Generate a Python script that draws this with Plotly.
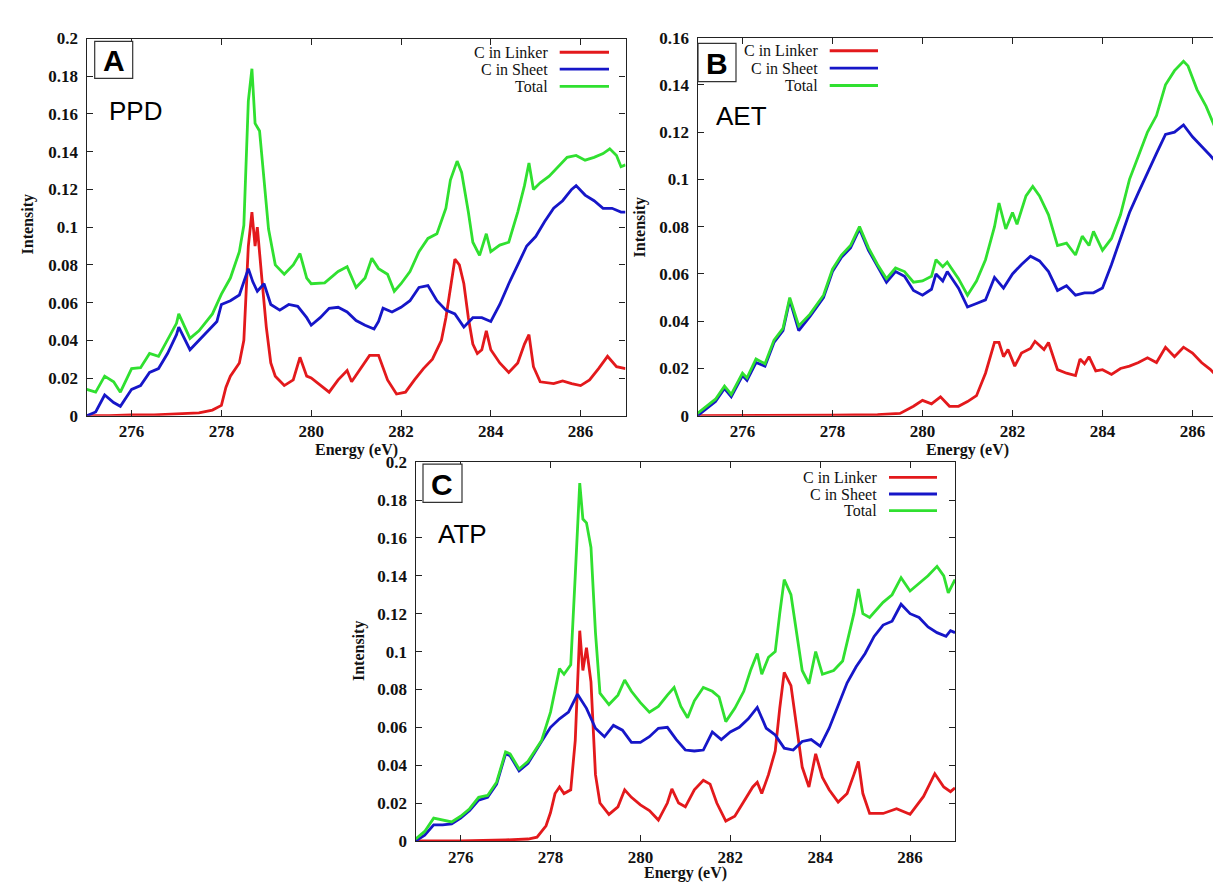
import plotly.graph_objects as go

# ---------------- data ----------------
energy_ticks = [276, 278, 280, 282, 284, 286]
y_ticks_02 = [0, 0.02, 0.04, 0.06, 0.08, 0.1, 0.12, 0.14, 0.16, 0.18, 0.2]
y_labels_02 = ["0", "0.02", "0.04", "0.06", "0.08", "0.1", "0.12", "0.14", "0.16", "0.18", "0.2"]
y_ticks_016 = [0, 0.02, 0.04, 0.06, 0.08, 0.1, 0.12, 0.14, 0.16]
y_labels_016 = ["0", "0.02", "0.04", "0.06", "0.08", "0.1", "0.12", "0.14", "0.16"]
series_names = ["C in Linker", "C in Sheet", "Total"]
panel_letters = ["A", "B", "C"]
panel_names = ["PPD", "AET", "ATP"]

# Panel A: PPD
ppd_linker_x = [275.0, 275.5, 276.0, 276.5, 277.0, 277.5, 277.8, 278.0, 278.1, 278.2, 278.4, 278.5, 278.6, 278.68, 278.75,
                278.8, 278.9, 279.0, 279.1, 279.2, 279.4, 279.6, 279.75, 279.9, 280.0, 280.2, 280.4, 280.6, 280.8,
                280.9, 281.1, 281.3, 281.5, 281.7, 281.9, 282.1, 282.3, 282.5, 282.7, 282.9, 283.0, 283.1, 283.2,
                283.3, 283.4, 283.5, 283.6, 283.7, 283.8, 283.9, 284.0, 284.2, 284.4, 284.6, 284.75, 284.85, 284.95,
                285.1, 285.4, 285.6, 285.8, 286.0, 286.2, 286.4, 286.6, 286.8, 287.0]
ppd_linker_y = [0.0, 0.0, 0.0005, 0.0005, 0.001, 0.0015, 0.003, 0.0055, 0.015, 0.021, 0.028, 0.04, 0.09, 0.108, 0.09,
                0.1, 0.073, 0.047, 0.028, 0.021, 0.016, 0.019, 0.031, 0.021, 0.02, 0.016, 0.0125, 0.019, 0.024,
                0.018, 0.025, 0.032, 0.032, 0.019, 0.0115, 0.0125, 0.019, 0.025, 0.03, 0.04, 0.052, 0.068, 0.083,
                0.08, 0.07, 0.052, 0.038, 0.033, 0.035, 0.045, 0.035, 0.028, 0.023, 0.028, 0.038, 0.043, 0.026,
                0.018, 0.017, 0.0185, 0.017, 0.016, 0.019, 0.025, 0.0315, 0.026, 0.025]

ppd_sheet_x = [275.0, 275.2, 275.4, 275.6, 275.75, 276.0, 276.2, 276.4, 276.6, 276.8, 277.0, 277.05, 277.3, 277.5,
               277.7, 277.9, 278.0, 278.2, 278.4, 278.6, 278.7, 278.8, 278.95, 279.1, 279.3, 279.5, 279.7, 279.9,
               280.0, 280.2, 280.4, 280.6, 280.8, 281.0, 281.2, 281.4, 281.5, 281.6, 281.8, 282.0, 282.2, 282.4,
               282.6, 282.8, 283.0, 283.2, 283.4, 283.6, 283.8, 284.0, 284.2, 284.4, 284.6, 284.8, 285.0, 285.2,
               285.4, 285.6, 285.8, 285.9, 286.1, 286.3, 286.5, 286.7, 286.9, 287.0]
ppd_sheet_y = [0.0, 0.002, 0.011, 0.007, 0.005, 0.014, 0.016, 0.023, 0.025, 0.033, 0.043, 0.047, 0.035, 0.04,
               0.045, 0.05, 0.059, 0.061, 0.064, 0.078, 0.071, 0.066, 0.07, 0.059, 0.056, 0.059, 0.058, 0.052,
               0.048, 0.052, 0.057, 0.0575, 0.055, 0.0505, 0.048, 0.046, 0.05, 0.057, 0.055, 0.0575, 0.061, 0.068,
               0.069, 0.061, 0.056, 0.054, 0.047, 0.052, 0.052, 0.05, 0.059, 0.07, 0.08, 0.09, 0.095, 0.103,
               0.11, 0.114, 0.12, 0.122, 0.117, 0.114, 0.11, 0.11, 0.108, 0.108]

ppd_total_x = [275.0, 275.2, 275.4, 275.6, 275.75, 276.0, 276.2, 276.4, 276.6, 276.8, 277.0, 277.05, 277.3, 277.5,
               277.8, 278.0, 278.2, 278.4, 278.5, 278.6, 278.68, 278.75, 278.85, 278.95, 279.05, 279.2, 279.4,
               279.6, 279.75, 279.9, 280.0, 280.3, 280.6, 280.8, 281.0, 281.2, 281.35, 281.5, 281.7, 281.85, 282.0,
               282.2, 282.4, 282.6, 282.8, 283.0, 283.1, 283.25, 283.35, 283.5, 283.6, 283.75, 283.9, 284.0, 284.2,
               284.4, 284.6, 284.75, 284.85, 284.95, 285.1, 285.3, 285.5, 285.7, 285.9, 286.1, 286.3, 286.5,
               286.65, 286.8, 286.9, 287.0]
ppd_total_y = [0.014, 0.0125, 0.021, 0.018, 0.0125, 0.025, 0.0255, 0.033, 0.0315, 0.04, 0.049, 0.054, 0.041, 0.045,
               0.054, 0.0645, 0.073, 0.087, 0.101, 0.167, 0.184, 0.155, 0.151, 0.125, 0.099, 0.08, 0.075,
               0.08, 0.086, 0.073, 0.07, 0.0705, 0.0765, 0.079, 0.068, 0.073, 0.0835, 0.078, 0.075, 0.066, 0.07,
               0.0765, 0.087, 0.094, 0.0965, 0.11, 0.125, 0.135, 0.129, 0.108, 0.092, 0.085, 0.0965, 0.087, 0.0905,
               0.092, 0.108, 0.122, 0.134, 0.12, 0.1235, 0.127, 0.132, 0.137, 0.138, 0.1355, 0.137, 0.139,
               0.1415, 0.138, 0.132, 0.133]

# Panel B: AET
aet_linker_x = [275.0, 276.0, 277.0, 278.0, 279.0, 279.5, 279.8, 280.0, 280.2, 280.4, 280.6, 280.8, 281.0, 281.2,
                281.4, 281.6, 281.7, 281.8, 281.9, 282.05, 282.2, 282.4, 282.5, 282.7, 282.8, 283.0, 283.2, 283.4,
                283.5, 283.6, 283.7, 283.85, 284.0, 284.2, 284.4, 284.6, 284.8, 285.0, 285.2, 285.4, 285.6, 285.8,
                286.0, 286.2, 286.4, 286.6, 286.8, 287.0]
aet_linker_y = [0.0, 0.0, 0.0, 0.0002, 0.0005, 0.001, 0.004, 0.0065, 0.005, 0.008, 0.004, 0.004, 0.006, 0.0085,
                0.018, 0.031, 0.031, 0.025, 0.028, 0.021, 0.0265, 0.0285, 0.0315, 0.028, 0.031, 0.0195, 0.018, 0.017,
                0.024, 0.022, 0.025, 0.019, 0.0195, 0.0175, 0.02, 0.021, 0.0225, 0.0245, 0.0225, 0.029, 0.025, 0.029,
                0.0265, 0.0225, 0.0195, 0.0155, 0.0115, 0.009]

aet_sheet_x = [275.0, 275.2, 275.4, 275.6, 275.75, 276.0, 276.1, 276.3, 276.5, 276.7, 276.9, 277.05, 277.15, 277.25,
               277.5, 277.8, 278.0, 278.2, 278.4, 278.6, 278.8, 279.0, 279.2, 279.4, 279.6, 279.8, 280.0, 280.2,
               280.3, 280.45, 280.55, 280.8, 281.0, 281.2, 281.4, 281.6, 281.8, 282.0, 282.2, 282.4, 282.6, 282.8,
               283.0, 283.2, 283.4, 283.6, 283.8, 284.0, 284.2, 284.4, 284.6, 284.8, 285.0, 285.2, 285.4, 285.6,
               285.8, 286.0, 286.2, 286.4, 286.6, 286.8, 287.0]
aet_sheet_y = [0.0, 0.003, 0.006, 0.0115, 0.008, 0.017, 0.015, 0.0225, 0.021, 0.031, 0.036, 0.049, 0.042, 0.036,
               0.042, 0.05, 0.061, 0.067, 0.071, 0.079, 0.07, 0.063, 0.0565, 0.061, 0.059, 0.053, 0.051, 0.0535,
               0.06, 0.057, 0.061, 0.054, 0.046, 0.0475, 0.049, 0.0585, 0.054, 0.06, 0.064, 0.0675, 0.0655, 0.061,
               0.053, 0.055, 0.051, 0.052, 0.052, 0.054, 0.064, 0.075, 0.086, 0.0945, 0.103, 0.111, 0.119, 0.12,
               0.123, 0.118, 0.114, 0.11, 0.1055, 0.104, 0.104]

aet_total_x = [275.0, 275.2, 275.4, 275.6, 275.75, 276.0, 276.1, 276.3, 276.5, 276.7, 276.9, 277.05, 277.15, 277.25,
               277.5, 277.8, 278.0, 278.2, 278.4, 278.6, 278.8, 279.0, 279.2, 279.4, 279.6, 279.8, 280.0, 280.2,
               280.3, 280.45, 280.55, 280.8, 281.0, 281.2, 281.4, 281.6, 281.7, 281.85, 282.0, 282.1, 282.3, 282.45,
               282.6, 282.8, 283.0, 283.2, 283.4, 283.55, 283.7, 283.8, 284.0, 284.2, 284.4, 284.6, 284.8, 285.0,
               285.2, 285.4, 285.6, 285.8, 285.9, 286.1, 286.3, 286.5, 286.7, 286.9, 287.0]
aet_total_y = [0.001, 0.004, 0.007, 0.0125, 0.009, 0.018, 0.016, 0.024, 0.022, 0.032, 0.037, 0.05, 0.044, 0.038,
               0.043, 0.051, 0.062, 0.068, 0.072, 0.08, 0.071, 0.064, 0.058, 0.0625, 0.061, 0.0565, 0.057, 0.059,
               0.066, 0.063, 0.065, 0.058, 0.051, 0.057, 0.066, 0.08, 0.09, 0.079, 0.086, 0.081, 0.093, 0.097,
               0.093, 0.085, 0.072, 0.073, 0.068, 0.076, 0.072, 0.078, 0.07, 0.075, 0.085, 0.1, 0.11, 0.12,
               0.127, 0.14, 0.146, 0.15, 0.148, 0.138, 0.131, 0.122, 0.116, 0.117, 0.112]

# Panel C: ATP
atp_linker_x = [275.0, 276.0, 277.0, 277.5, 277.7, 277.9, 278.0, 278.1, 278.2, 278.3, 278.45, 278.55, 278.65, 278.72,
                278.8, 278.9, 279.0, 279.1, 279.3, 279.5, 279.65, 279.8, 280.0, 280.2, 280.4, 280.6, 280.7, 280.85,
                281.0, 281.2, 281.4, 281.55, 281.7, 281.9, 282.1, 282.3, 282.5, 282.6, 282.7, 282.85, 283.0, 283.1,
                283.2, 283.35, 283.5, 283.6, 283.75, 283.9, 284.05, 284.2, 284.4, 284.6, 284.75, 284.85, 284.95,
                285.1, 285.4, 285.7, 286.0, 286.3, 286.55, 286.75, 286.9, 287.0]
atp_linker_y = [0.0, 0.0, 0.0005, 0.001, 0.002, 0.008, 0.015, 0.025, 0.0285, 0.025, 0.027, 0.053, 0.111, 0.09,
                0.102, 0.084, 0.035, 0.02, 0.014, 0.018, 0.027, 0.023, 0.019, 0.016, 0.011, 0.02, 0.0275, 0.02,
                0.018, 0.027, 0.032, 0.03, 0.02, 0.0105, 0.013, 0.0205, 0.0285, 0.031, 0.025, 0.035, 0.0475, 0.07,
                0.089, 0.082, 0.056, 0.039, 0.0285, 0.046, 0.0335, 0.027, 0.0205, 0.025, 0.035, 0.042, 0.025,
                0.0145, 0.0145, 0.017, 0.014, 0.0235, 0.0355, 0.0285, 0.026, 0.028]

atp_sheet_x = [275.0, 275.2, 275.4, 275.6, 275.8, 276.0, 276.2, 276.4, 276.6, 276.8, 277.0, 277.1, 277.3, 277.5,
               277.8, 278.0, 278.2, 278.4, 278.6, 278.8, 279.0, 279.2, 279.4, 279.6, 279.8, 280.0, 280.2, 280.4,
               280.6, 280.8, 281.0, 281.2, 281.4, 281.6, 281.8, 282.0, 282.2, 282.4, 282.6, 282.8, 283.0, 283.2,
               283.4, 283.6, 283.8, 284.0, 284.2, 284.4, 284.6, 284.8, 285.0, 285.2, 285.4, 285.6, 285.8, 286.0,
               286.2, 286.4, 286.6, 286.8, 286.9, 287.0]
atp_sheet_y = [0.0, 0.003, 0.0085, 0.0085, 0.009, 0.012, 0.016, 0.0215, 0.023, 0.03, 0.046, 0.045, 0.037, 0.041,
               0.0525, 0.06, 0.0645, 0.068, 0.0775, 0.07, 0.0595, 0.055, 0.061, 0.0585, 0.052, 0.052, 0.055, 0.0595,
               0.06, 0.0535, 0.048, 0.0475, 0.048, 0.0575, 0.0535, 0.0575, 0.06, 0.0645, 0.0705, 0.0595, 0.056, 0.049,
               0.048, 0.0525, 0.0535, 0.05, 0.0595, 0.0715, 0.0835, 0.092, 0.099, 0.108, 0.114, 0.116, 0.125, 0.12,
               0.118, 0.113, 0.11, 0.108, 0.111, 0.11]

atp_total_x = [275.0, 275.2, 275.4, 275.6, 275.8, 276.0, 276.2, 276.4, 276.6, 276.8, 277.0, 277.1, 277.3, 277.5,
               277.8, 278.0, 278.2, 278.3, 278.45, 278.55, 278.65, 278.72, 278.8, 278.9, 279.0, 279.1, 279.3, 279.5,
               279.65, 279.8, 280.0, 280.2, 280.4, 280.6, 280.75, 280.9, 281.05, 281.2, 281.4, 281.6, 281.75, 281.9,
               282.1, 282.3, 282.45, 282.6, 282.7, 282.85, 283.0, 283.1, 283.2, 283.35, 283.5, 283.6, 283.75, 283.9,
               284.05, 284.3, 284.5, 284.65, 284.75, 284.85, 284.95, 285.1, 285.4, 285.6, 285.8, 286.0, 286.2, 286.4,
               286.6, 286.75, 286.85, 287.0]
atp_total_y = [0.001, 0.005, 0.012, 0.011, 0.01, 0.013, 0.017, 0.023, 0.024, 0.031, 0.047, 0.046, 0.038, 0.042,
               0.053, 0.068, 0.091, 0.088, 0.093, 0.14, 0.189, 0.17, 0.168, 0.155, 0.11, 0.078, 0.072, 0.077,
               0.085, 0.079, 0.073, 0.068, 0.071, 0.077, 0.081, 0.071, 0.065, 0.074, 0.081, 0.079, 0.076, 0.063,
               0.07, 0.079, 0.09, 0.099, 0.088, 0.097, 0.1, 0.12, 0.138, 0.13, 0.105, 0.09, 0.083, 0.1,
               0.088, 0.09, 0.095, 0.11, 0.12, 0.133, 0.12, 0.118, 0.126, 0.13, 0.139, 0.132, 0.136, 0.14,
               0.145, 0.14, 0.131, 0.138]

# ---------------- styling ----------------
W, H = 1221, 884
COLORS = ["#e3191c", "#1616c8", "#30e030"]
SERIF = "Liberation Serif, Times New Roman, serif"
SANS = "Liberation Sans, Arial, sans-serif"


def px(x):
    return x / W


def py(y):
    return 1 - y / H


panels = [
    dict(xaxis="x", yaxis="y", series=[(ppd_linker_x, ppd_linker_y), (ppd_sheet_x, ppd_sheet_y), (ppd_total_x, ppd_total_y)]),
    dict(xaxis="x2", yaxis="y2", series=[(aet_linker_x, aet_linker_y), (aet_sheet_x, aet_sheet_y), (aet_total_x, aet_total_y)]),
    dict(xaxis="x3", yaxis="y3", series=[(atp_linker_x, atp_linker_y), (atp_sheet_x, atp_sheet_y), (atp_total_x, atp_total_y)]),
]

fig = go.Figure()
for p in panels:
    for i, (xs, ys) in enumerate(p["series"]):
        fig.add_trace(go.Scatter(x=xs, y=ys, mode="lines", name=series_names[i],
                                 line=dict(color=COLORS[i], width=2.8),
                                 xaxis=p["xaxis"], yaxis=p["yaxis"], showlegend=False))

# pixel geometry of the three plot frames: (left, right, top, bottom, x_max, y_max)
frames = [
    (78.7, 617.5, 22.0, 407.5, 287.0, 0.2),
    (689.5, 1221.0, 21.0, 407.5, 275 + (1221 - 689.5) / 45.0, 0.16),
    (407.7, 947.0, 455.0, 842.0, 287.0, 0.2),
]

axis_common = dict(showgrid=False, zeroline=False, showline=True, linecolor="#222", linewidth=1.4,
                   ticks="inside", ticklen=6, tickwidth=1.2, tickcolor="#222",
                   tickfont=dict(family=SERIF, size=17, color="#111", weight="bold"))

layout = dict(width=W, height=H, margin=dict(l=0, r=0, t=0, b=0),
              paper_bgcolor="white", plot_bgcolor="white", showlegend=False)

for k, (l, r, t, b, xmax, ymax) in enumerate(frames):
    sx = "" if k == 0 else str(k + 1)
    yt = y_ticks_016 if k == 1 else y_ticks_02
    yl = y_labels_016 if k == 1 else y_labels_02
    layout["xaxis" + sx] = dict(axis_common, domain=[px(l), px(r)], range=[275, xmax],
                                anchor="y" + sx, tickvals=energy_ticks,
                                ticktext=[str(v) for v in energy_ticks], mirror="allticks",
                                ticklabelstandoff=0)
    layout["yaxis" + sx] = dict(axis_common, domain=[py(b), py(t)], range=[0, ymax],
                                anchor="x" + sx, tickvals=yt, ticktext=yl,
                                mirror=(False if k == 1 else "allticks"), ticklabelstandoff=4)

fig.update_layout(**layout)

annotations = []
shapes = []

# axis titles
xtitle_pos = [(348, 442), (960, 442), (677, 875)]
ytitle_pos = [(20, 212), (632, 215), (351, 648)]
for (xx, yy) in xtitle_pos:
    annotations.append(dict(x=px(xx), y=py(yy), xref="paper", yref="paper", text="<b>Energy (eV)</b>",
                            showarrow=False, font=dict(family=SERIF, size=16, color="#111"),
                            xanchor="center", yanchor="middle"))
for (xx, yy) in ytitle_pos:
    annotations.append(dict(x=px(xx), y=py(yy), xref="paper", yref="paper", text="<b>Intensity</b>",
                            showarrow=False, textangle=-90, font=dict(family=SERIF, size=16, color="#111"),
                            xanchor="center", yanchor="middle"))

# letter boxes
boxes = [(86.7, 124.7, 25.0, 62.7), (690.0, 728.0, 27.0, 66.0), (415.0, 454.0, 457.0, 496.0)]
for k, (x0, x1, y0, y1) in enumerate(boxes):
    shapes.append(dict(type="rect", xref="paper", yref="paper", x0=px(x0), x1=px(x1), y0=py(y1), y1=py(y0),
                       line=dict(color="#333", width=1.2), fillcolor="white"))
    annotations.append(dict(x=px((x0 + x1) / 2), y=py((y0 + y1) / 2 + 1), xref="paper", yref="paper",
                            text="<b>%s</b>" % panel_letters[k], showarrow=False,
                            font=dict(family=SANS, size=30, color="black"),
                            xanchor="center", yanchor="middle"))

# panel names
name_pos = [(127, 96), (733, 101), (455, 528)]
for k, (xx, yy) in enumerate(name_pos):
    annotations.append(dict(x=px(xx), y=py(yy), xref="paper", yref="paper", text=panel_names[k],
                            showarrow=False, font=dict(family=SANS, size=26, color="black"),
                            xanchor="center", yanchor="middle"))

# legends: (text right edge, line x0, line x1, row y positions)
legends = [
    (541.7, 551.7, 601.0, [36.0, 53.3, 71.0]),
    (811.7, 821.7, 870.0, [34.5, 52.3, 70.0]),
    (871.0, 881.0, 929.0, [470.5, 487.5, 504.5]),
]
for (tx, lx0, lx1, rows) in legends:
    for i, yy in enumerate(rows):
        annotations.append(dict(x=px(tx), y=py(yy), xref="paper", yref="paper", text=series_names[i],
                                showarrow=False, font=dict(family=SERIF, size=16, color="#111"),
                                xanchor="right", yanchor="middle"))
        shapes.append(dict(type="line", xref="paper", yref="paper", x0=px(lx0), x1=px(lx1),
                           y0=py(yy), y1=py(yy), line=dict(color=COLORS[i], width=2.8)))

fig.update_layout(annotations=annotations, shapes=shapes)
fig.write_html("out.html")
